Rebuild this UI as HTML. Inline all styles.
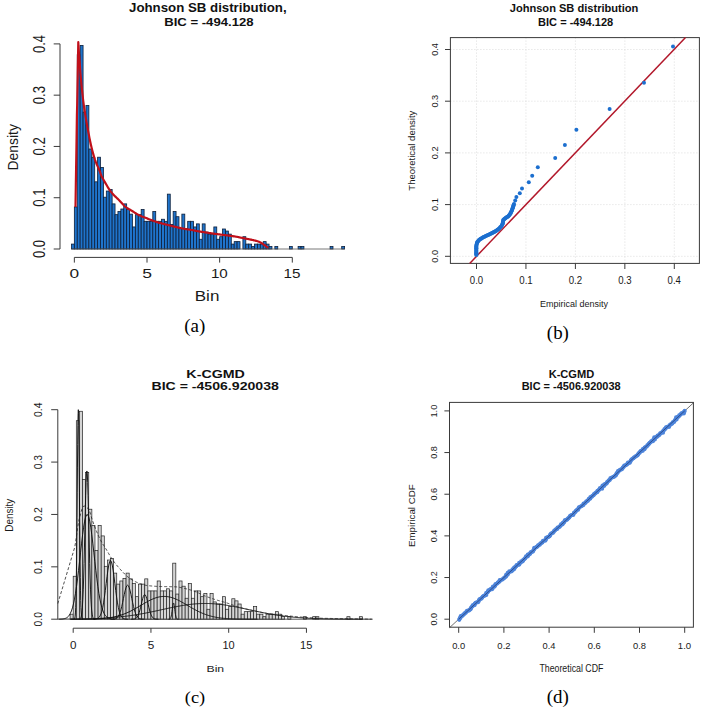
<!DOCTYPE html>
<html><head><meta charset="utf-8"><style>
html,body{margin:0;padding:0;background:#fff;}
svg{display:block;}
</style></head><body>
<svg width="704" height="707" viewBox="0 0 704 707">
<rect width="704" height="707" fill="#fff"/>
<rect x="71.44" y="244.08" width="2.91" height="4.92" fill="#1f74cc" stroke="#0d1f3a" stroke-width="0.8"/>
<rect x="74.35" y="206.95" width="2.91" height="42.05" fill="#1f74cc" stroke="#0d1f3a" stroke-width="0.8"/>
<rect x="77.26" y="54.67" width="2.91" height="194.33" fill="#1f74cc" stroke="#0d1f3a" stroke-width="0.8"/>
<rect x="80.16" y="45.44" width="2.91" height="203.56" fill="#1f74cc" stroke="#0d1f3a" stroke-width="0.8"/>
<rect x="83.07" y="112.1" width="2.91" height="136.9" fill="#1f74cc" stroke="#0d1f3a" stroke-width="0.8"/>
<rect x="85.97" y="105.43" width="2.91" height="143.57" fill="#1f74cc" stroke="#0d1f3a" stroke-width="0.8"/>
<rect x="88.88" y="149.01" width="2.91" height="99.99" fill="#1f74cc" stroke="#0d1f3a" stroke-width="0.8"/>
<rect x="91.79" y="157.22" width="2.91" height="91.78" fill="#1f74cc" stroke="#0d1f3a" stroke-width="0.8"/>
<rect x="94.69" y="181.83" width="2.91" height="67.17" fill="#1f74cc" stroke="#0d1f3a" stroke-width="0.8"/>
<rect x="97.6" y="157.22" width="2.91" height="91.78" fill="#1f74cc" stroke="#0d1f3a" stroke-width="0.8"/>
<rect x="100.5" y="167.47" width="2.91" height="81.53" fill="#1f74cc" stroke="#0d1f3a" stroke-width="0.8"/>
<rect x="103.41" y="197.21" width="2.91" height="51.79" fill="#1f74cc" stroke="#0d1f3a" stroke-width="0.8"/>
<rect x="106.32" y="191.06" width="2.91" height="57.94" fill="#1f74cc" stroke="#0d1f3a" stroke-width="0.8"/>
<rect x="109.22" y="189.52" width="2.91" height="59.48" fill="#1f74cc" stroke="#0d1f3a" stroke-width="0.8"/>
<rect x="112.13" y="203.88" width="2.91" height="45.12" fill="#1f74cc" stroke="#0d1f3a" stroke-width="0.8"/>
<rect x="115.03" y="214.65" width="2.91" height="34.35" fill="#1f74cc" stroke="#0d1f3a" stroke-width="0.8"/>
<rect x="117.94" y="211.57" width="2.91" height="37.43" fill="#1f74cc" stroke="#0d1f3a" stroke-width="0.8"/>
<rect x="120.85" y="209.01" width="2.91" height="39.99" fill="#1f74cc" stroke="#0d1f3a" stroke-width="0.8"/>
<rect x="123.75" y="203.88" width="2.91" height="45.12" fill="#1f74cc" stroke="#0d1f3a" stroke-width="0.8"/>
<rect x="126.66" y="209.52" width="2.91" height="39.48" fill="#1f74cc" stroke="#0d1f3a" stroke-width="0.8"/>
<rect x="129.56" y="214.13" width="2.91" height="34.87" fill="#1f74cc" stroke="#0d1f3a" stroke-width="0.8"/>
<rect x="132.47" y="226.95" width="2.91" height="22.05" fill="#1f74cc" stroke="#0d1f3a" stroke-width="0.8"/>
<rect x="135.38" y="214.65" width="2.91" height="34.35" fill="#1f74cc" stroke="#0d1f3a" stroke-width="0.8"/>
<rect x="138.28" y="214.65" width="2.91" height="34.35" fill="#1f74cc" stroke="#0d1f3a" stroke-width="0.8"/>
<rect x="141.19" y="209.52" width="2.91" height="39.48" fill="#1f74cc" stroke="#0d1f3a" stroke-width="0.8"/>
<rect x="144.09" y="221.31" width="2.91" height="27.69" fill="#1f74cc" stroke="#0d1f3a" stroke-width="0.8"/>
<rect x="147" y="221.31" width="2.91" height="27.69" fill="#1f74cc" stroke="#0d1f3a" stroke-width="0.8"/>
<rect x="149.91" y="221.31" width="2.91" height="27.69" fill="#1f74cc" stroke="#0d1f3a" stroke-width="0.8"/>
<rect x="152.81" y="211.57" width="2.91" height="37.43" fill="#1f74cc" stroke="#0d1f3a" stroke-width="0.8"/>
<rect x="155.72" y="221.31" width="2.91" height="27.69" fill="#1f74cc" stroke="#0d1f3a" stroke-width="0.8"/>
<rect x="158.62" y="221.31" width="2.91" height="27.69" fill="#1f74cc" stroke="#0d1f3a" stroke-width="0.8"/>
<rect x="161.53" y="219.26" width="2.91" height="29.74" fill="#1f74cc" stroke="#0d1f3a" stroke-width="0.8"/>
<rect x="164.44" y="221.31" width="2.91" height="27.69" fill="#1f74cc" stroke="#0d1f3a" stroke-width="0.8"/>
<rect x="167.34" y="194.14" width="2.91" height="54.86" fill="#1f74cc" stroke="#0d1f3a" stroke-width="0.8"/>
<rect x="170.25" y="224.39" width="2.91" height="24.61" fill="#1f74cc" stroke="#0d1f3a" stroke-width="0.8"/>
<rect x="173.15" y="211.57" width="2.91" height="37.43" fill="#1f74cc" stroke="#0d1f3a" stroke-width="0.8"/>
<rect x="176.06" y="216.7" width="2.91" height="32.3" fill="#1f74cc" stroke="#0d1f3a" stroke-width="0.8"/>
<rect x="178.97" y="228.49" width="2.91" height="20.51" fill="#1f74cc" stroke="#0d1f3a" stroke-width="0.8"/>
<rect x="181.87" y="214.13" width="2.91" height="34.87" fill="#1f74cc" stroke="#0d1f3a" stroke-width="0.8"/>
<rect x="184.78" y="228.49" width="2.91" height="20.51" fill="#1f74cc" stroke="#0d1f3a" stroke-width="0.8"/>
<rect x="187.68" y="221.31" width="2.91" height="27.69" fill="#1f74cc" stroke="#0d1f3a" stroke-width="0.8"/>
<rect x="190.59" y="221.31" width="2.91" height="27.69" fill="#1f74cc" stroke="#0d1f3a" stroke-width="0.8"/>
<rect x="193.5" y="226.95" width="2.91" height="22.05" fill="#1f74cc" stroke="#0d1f3a" stroke-width="0.8"/>
<rect x="196.4" y="223.88" width="2.91" height="25.12" fill="#1f74cc" stroke="#0d1f3a" stroke-width="0.8"/>
<rect x="199.31" y="239.26" width="2.91" height="9.74" fill="#1f74cc" stroke="#0d1f3a" stroke-width="0.8"/>
<rect x="202.21" y="223.88" width="2.91" height="25.12" fill="#1f74cc" stroke="#0d1f3a" stroke-width="0.8"/>
<rect x="205.12" y="232.08" width="2.91" height="16.92" fill="#1f74cc" stroke="#0d1f3a" stroke-width="0.8"/>
<rect x="208.03" y="234.13" width="2.91" height="14.87" fill="#1f74cc" stroke="#0d1f3a" stroke-width="0.8"/>
<rect x="210.93" y="234.13" width="2.91" height="14.87" fill="#1f74cc" stroke="#0d1f3a" stroke-width="0.8"/>
<rect x="213.84" y="226.95" width="2.91" height="22.05" fill="#1f74cc" stroke="#0d1f3a" stroke-width="0.8"/>
<rect x="216.74" y="239.26" width="2.91" height="9.74" fill="#1f74cc" stroke="#0d1f3a" stroke-width="0.8"/>
<rect x="219.65" y="236.69" width="2.91" height="12.31" fill="#1f74cc" stroke="#0d1f3a" stroke-width="0.8"/>
<rect x="222.56" y="229" width="2.91" height="20" fill="#1f74cc" stroke="#0d1f3a" stroke-width="0.8"/>
<rect x="225.46" y="231.05" width="2.91" height="17.95" fill="#1f74cc" stroke="#0d1f3a" stroke-width="0.8"/>
<rect x="228.37" y="234.13" width="2.91" height="14.87" fill="#1f74cc" stroke="#0d1f3a" stroke-width="0.8"/>
<rect x="231.27" y="244.08" width="2.91" height="4.92" fill="#1f74cc" stroke="#0d1f3a" stroke-width="0.8"/>
<rect x="234.18" y="241.62" width="2.91" height="7.38" fill="#1f74cc" stroke="#0d1f3a" stroke-width="0.8"/>
<rect x="237.09" y="241.62" width="2.91" height="7.38" fill="#1f74cc" stroke="#0d1f3a" stroke-width="0.8"/>
<rect x="242.9" y="236.69" width="2.91" height="12.31" fill="#1f74cc" stroke="#0d1f3a" stroke-width="0.8"/>
<rect x="245.8" y="244.08" width="2.91" height="4.92" fill="#1f74cc" stroke="#0d1f3a" stroke-width="0.8"/>
<rect x="248.71" y="244.08" width="2.91" height="4.92" fill="#1f74cc" stroke="#0d1f3a" stroke-width="0.8"/>
<rect x="251.62" y="246.54" width="2.91" height="2.46" fill="#1f74cc" stroke="#0d1f3a" stroke-width="0.8"/>
<rect x="254.52" y="244.08" width="2.91" height="4.92" fill="#1f74cc" stroke="#0d1f3a" stroke-width="0.8"/>
<rect x="257.43" y="244.08" width="2.91" height="4.92" fill="#1f74cc" stroke="#0d1f3a" stroke-width="0.8"/>
<rect x="260.33" y="244.08" width="2.91" height="4.92" fill="#1f74cc" stroke="#0d1f3a" stroke-width="0.8"/>
<rect x="263.24" y="241.62" width="2.91" height="7.38" fill="#1f74cc" stroke="#0d1f3a" stroke-width="0.8"/>
<rect x="266.15" y="244.08" width="2.91" height="4.92" fill="#1f74cc" stroke="#0d1f3a" stroke-width="0.8"/>
<rect x="269.05" y="246.54" width="2.91" height="2.46" fill="#1f74cc" stroke="#0d1f3a" stroke-width="0.8"/>
<rect x="274.86" y="246.54" width="2.91" height="2.46" fill="#1f74cc" stroke="#0d1f3a" stroke-width="0.8"/>
<rect x="289.39" y="246.54" width="2.91" height="2.46" fill="#1f74cc" stroke="#0d1f3a" stroke-width="0.8"/>
<rect x="298.11" y="246.54" width="2.91" height="2.46" fill="#1f74cc" stroke="#0d1f3a" stroke-width="0.8"/>
<rect x="301.02" y="246.54" width="2.91" height="2.46" fill="#1f74cc" stroke="#0d1f3a" stroke-width="0.8"/>
<rect x="330.08" y="246.54" width="2.91" height="2.46" fill="#1f74cc" stroke="#0d1f3a" stroke-width="0.8"/>
<rect x="341.7" y="246.54" width="2.91" height="2.46" fill="#1f74cc" stroke="#0d1f3a" stroke-width="0.8"/>
<line x1="71.44" y1="249" x2="344.61" y2="249" stroke="#555" stroke-width="0.8"/>
<polyline points="75.5,207 75.9,180 76.4,150 76.9,116 77.2,104 77.7,75 78,58.6 78.3,42.2 79,54.07 79.7,62.76 80.4,72.93 81.1,81.03 81.8,87.99 82.5,94.7 83.2,100.63 83.9,105.88 84.6,110.66 85.3,115.09 86,119.27 86.7,123.26 87.4,127.11 88.1,130.87 88.8,134.57 89.5,138.16 90.2,141.56 90.9,144.7 91.6,147.64 92.3,150.46 93,153.13 93.7,155.64 94.4,157.97 95.1,160.08 95.8,161.97 96.5,163.7 97.2,165.32 97.9,166.89 98.6,168.47 99.3,170.13 100,171.94 100.7,173.97 101.4,175.68 102.1,177.15 102.8,178.5 103.5,179.76 104.2,180.96 104.9,182.14 105.6,183.33 106.3,184.54 107,185.75 107.7,186.95 108.4,188.11 109.1,189.22 109.8,190.25 110.5,191.19 111.2,192.07 111.9,192.89 112.6,193.67 113.3,194.43 114,195.17 114.7,195.9 115.4,196.62 116.1,197.31 116.8,197.98 117.5,198.64 118.2,199.31 118.9,200 119.6,200.71 120.3,201.47 121,202.25 121.7,203.05 122.4,203.83 123.1,204.59 123.8,205.31 124.5,205.97 125.2,206.56 125.9,207.1 126.6,207.6 127.3,208.07 128,208.53 128.7,208.96 129.4,209.38 130.1,209.8 130.8,210.21 131.5,210.63 132.2,211.06 132.9,211.5 133.6,211.94 134.3,212.38 135,212.82 135.7,213.25 136.4,213.67 137.1,214.08 137.8,214.48 138.5,214.85 139.2,215.2 139.9,215.53 140.6,215.84 141.3,216.14 142,216.43 142.7,216.7 143.4,216.98 144.1,217.24 144.8,217.51 145.5,217.78 146.2,218.06 146.9,218.34 147.6,218.63 148.3,218.92 149,219.2 149.7,219.49 150.4,219.77 151.1,220.05 151.8,220.32 152.5,220.58 153.2,220.83 153.9,221.07 154.6,221.31 155.3,221.54 156,221.76 156.7,221.98 157.4,222.2 158.1,222.41 158.8,222.62 159.5,222.82 160.2,223.02 160.9,223.21 161.6,223.4 162.3,223.58 163,223.76 163.7,223.93 164.4,224.11 165.1,224.28 165.8,224.45 166.5,224.62 167.2,224.8 167.9,224.98 168.6,225.16 169.3,225.34 170,225.53 170.7,225.71 171.4,225.89 172.1,226.08 172.8,226.26 173.5,226.43 174.2,226.61 174.9,226.78 175.6,226.94 176.3,227.11 177,227.27 177.7,227.43 178.4,227.59 179.1,227.75 179.8,227.91 180.5,228.06 181.2,228.21 181.9,228.36 182.6,228.5 183.3,228.63 184,228.76 184.7,228.89 185.4,229 186.1,229.11 186.8,229.22 187.5,229.32 188.2,229.42 188.9,229.52 189.6,229.63 190.3,229.73 191,229.85 191.7,229.97 192.4,230.1 193.1,230.24 193.8,230.38 194.5,230.53 195.2,230.67 195.9,230.82 196.6,230.96 197.3,231.1 198,231.23 198.7,231.35 199.4,231.47 200.1,231.58 200.8,231.69 201.5,231.8 202.2,231.9 202.9,232.01 203.6,232.11 204.3,232.22 205,232.32 205.7,232.43 206.4,232.54 207.1,232.65 207.8,232.76 208.5,232.87 209.2,232.98 209.9,233.09 210.6,233.2 211.3,233.31 212,233.41 212.7,233.51 213.4,233.61 214.1,233.71 214.8,233.81 215.5,233.91 216.2,234 216.9,234.09 217.6,234.19 218.3,234.28 219,234.37 219.7,234.46 220.4,234.55 221.1,234.64 221.8,234.72 222.5,234.81 223.2,234.89 223.9,234.98 224.6,235.06 225.3,235.15 226,235.24 226.7,235.33 227.4,235.42 228.1,235.51 228.8,235.6 229.5,235.69 230.2,235.79 230.9,235.89 231.6,235.98 232.3,236.08 233,236.19 233.7,236.29 234.4,236.4 235.1,236.52 235.8,236.64 236.5,236.76 237.2,236.89 237.9,237.03 238.6,237.17 239.3,237.31 240,237.46 240.7,237.6 241.4,237.75 242.1,237.9 242.8,238.04 243.5,238.18 244.2,238.32 244.9,238.45 245.6,238.59 246.3,238.72 247,238.85 247.7,238.99 248.4,239.12 249.1,239.26 249.8,239.4 250.5,239.55 251.2,239.7 251.9,239.85 252.6,240.01 253.3,240.17 254,240.33 254.7,240.49 255.4,240.65 256.1,240.83 256.8,241.02 257.5,241.22 258.2,241.45 258.9,241.7 259.6,242 260.3,242.36 261,242.77 261.7,243.21 262.4,243.67 263.1,244.13 263.8,244.61 264.5,245.13 265.2,245.67 265.9,246.2 266.6,246.7 267.3,247.17 268,247.61 268.3,247.8" fill="none" stroke="#c0101a" stroke-width="2.2" stroke-linejoin="round"/>
<line x1="60" y1="249" x2="60" y2="43.9" stroke="#3a3a3a" stroke-width="1"/>
<line x1="53.7" y1="249" x2="60" y2="249" stroke="#3a3a3a" stroke-width="1"/>
<text transform="translate(45,258.12) rotate(-90) scale(0.7630,1)" font-family='"Liberation Sans", sans-serif' font-size="17.143" fill="#1a1a1a">0.0</text>
<line x1="53.7" y1="197.72" x2="60" y2="197.72" stroke="#3a3a3a" stroke-width="1"/>
<text transform="translate(45,206.85) rotate(-90) scale(0.7688,1)" font-family='"Liberation Sans", sans-serif' font-size="17.143" fill="#1a1a1a">0.1</text>
<line x1="53.7" y1="146.45" x2="60" y2="146.45" stroke="#3a3a3a" stroke-width="1"/>
<text transform="translate(45,155.58) rotate(-90) scale(0.7718,1)" font-family='"Liberation Sans", sans-serif' font-size="17.143" fill="#1a1a1a">0.2</text>
<line x1="53.7" y1="95.17" x2="60" y2="95.17" stroke="#3a3a3a" stroke-width="1"/>
<text transform="translate(45,104.3) rotate(-90) scale(0.7659,1)" font-family='"Liberation Sans", sans-serif' font-size="17.143" fill="#1a1a1a">0.3</text>
<line x1="53.7" y1="43.9" x2="60" y2="43.9" stroke="#3a3a3a" stroke-width="1"/>
<text transform="translate(45,53.02) rotate(-90) scale(0.7601,1)" font-family='"Liberation Sans", sans-serif' font-size="17.143" fill="#1a1a1a">0.4</text>
<line x1="74.35" y1="257.4" x2="292.3" y2="257.4" stroke="#3a3a3a" stroke-width="1"/>
<line x1="74.35" y1="257.4" x2="74.35" y2="262.6" stroke="#3a3a3a" stroke-width="1"/>
<text transform="translate(69.51,277.6) scale(1.2877,1)" font-family='"Liberation Sans", sans-serif' font-size="13.429" fill="#1a1a1a">0</text>
<line x1="147" y1="257.4" x2="147" y2="262.6" stroke="#3a3a3a" stroke-width="1"/>
<text transform="translate(142.15,277.6) scale(1.2826,1)" font-family='"Liberation Sans", sans-serif' font-size="13.623" fill="#1a1a1a">5</text>
<line x1="219.65" y1="257.4" x2="219.65" y2="262.6" stroke="#3a3a3a" stroke-width="1"/>
<text transform="translate(210.91,277.6) scale(1.1319,1)" font-family='"Liberation Sans", sans-serif' font-size="13.429" fill="#1a1a1a">10</text>
<line x1="292.3" y1="257.4" x2="292.3" y2="262.6" stroke="#3a3a3a" stroke-width="1"/>
<text transform="translate(283.55,277.6) scale(1.1214,1)" font-family='"Liberation Sans", sans-serif' font-size="13.623" fill="#1a1a1a">15</text>
<text transform="translate(18.2,170.51) rotate(-90) scale(0.9009,1)" font-family='"Liberation Sans", sans-serif' font-size="15.448" fill="#1a1a1a">Density</text>
<text transform="translate(194.73,300.8) scale(1.2020,1)" font-family='"Liberation Sans", sans-serif' font-size="14.207" fill="#1a1a1a">Bin</text>
<text transform="translate(129,12.3) scale(1.1062,1)" font-family='"Liberation Sans", sans-serif' font-size="12.000" font-weight="bold" fill="#111">Johnson SB distribution,</text>
<text transform="translate(164.15,25.6) scale(1.1213,1)" font-family='"Liberation Sans", sans-serif' font-size="11.714" font-weight="bold" fill="#111">BIC = -494.128</text>
<text transform="translate(184.24,331.6) scale(1.0168,1)" font-family='"Liberation Serif", serif' font-size="18.705" fill="#000">(a)</text>
<line x1="476.5" y1="37.6" x2="476.5" y2="263.4" stroke="#d4d4d4" stroke-width="0.8" stroke-dasharray="1,2"/>
<line x1="450.4" y1="256.3" x2="699.4" y2="256.3" stroke="#d4d4d4" stroke-width="0.8" stroke-dasharray="1,2"/>
<line x1="525.95" y1="37.6" x2="525.95" y2="263.4" stroke="#d4d4d4" stroke-width="0.8" stroke-dasharray="1,2"/>
<line x1="450.4" y1="204.6" x2="699.4" y2="204.6" stroke="#d4d4d4" stroke-width="0.8" stroke-dasharray="1,2"/>
<line x1="575.4" y1="37.6" x2="575.4" y2="263.4" stroke="#d4d4d4" stroke-width="0.8" stroke-dasharray="1,2"/>
<line x1="450.4" y1="152.9" x2="699.4" y2="152.9" stroke="#d4d4d4" stroke-width="0.8" stroke-dasharray="1,2"/>
<line x1="624.85" y1="37.6" x2="624.85" y2="263.4" stroke="#d4d4d4" stroke-width="0.8" stroke-dasharray="1,2"/>
<line x1="450.4" y1="101.2" x2="699.4" y2="101.2" stroke="#d4d4d4" stroke-width="0.8" stroke-dasharray="1,2"/>
<line x1="674.3" y1="37.6" x2="674.3" y2="263.4" stroke="#d4d4d4" stroke-width="0.8" stroke-dasharray="1,2"/>
<line x1="450.4" y1="49.5" x2="699.4" y2="49.5" stroke="#d4d4d4" stroke-width="0.8" stroke-dasharray="1,2"/>
<rect x="450.4" y="37.6" width="249" height="225.8" fill="none" stroke="#3a3a3a" stroke-width="1"/>
<line x1="476.5" y1="263.4" x2="476.5" y2="269" stroke="#3a3a3a" stroke-width="1"/>
<text transform="translate(469.82,284.3) scale(0.9316,1)" font-family='"Liberation Sans", sans-serif' font-size="10.286" fill="#1a1a1a">0.0</text>
<line x1="445" y1="256.3" x2="450.4" y2="256.3" stroke="#3a3a3a" stroke-width="1"/>
<text transform="translate(437.9,262.67) rotate(-90) scale(0.9827,1)" font-family='"Liberation Sans", sans-serif' font-size="9.286" fill="#1a1a1a">0.0</text>
<line x1="525.95" y1="263.4" x2="525.95" y2="269" stroke="#3a3a3a" stroke-width="1"/>
<text transform="translate(519.26,284.3) scale(0.9387,1)" font-family='"Liberation Sans", sans-serif' font-size="10.286" fill="#1a1a1a">0.1</text>
<line x1="445" y1="204.6" x2="450.4" y2="204.6" stroke="#3a3a3a" stroke-width="1"/>
<text transform="translate(437.9,210.97) rotate(-90) scale(0.9903,1)" font-family='"Liberation Sans", sans-serif' font-size="9.286" fill="#1a1a1a">0.1</text>
<line x1="575.4" y1="263.4" x2="575.4" y2="269" stroke="#3a3a3a" stroke-width="1"/>
<text transform="translate(568.71,284.3) scale(0.9423,1)" font-family='"Liberation Sans", sans-serif' font-size="10.286" fill="#1a1a1a">0.2</text>
<line x1="445" y1="152.9" x2="450.4" y2="152.9" stroke="#3a3a3a" stroke-width="1"/>
<text transform="translate(437.9,159.27) rotate(-90) scale(0.9941,1)" font-family='"Liberation Sans", sans-serif' font-size="9.286" fill="#1a1a1a">0.2</text>
<line x1="624.85" y1="263.4" x2="624.85" y2="269" stroke="#3a3a3a" stroke-width="1"/>
<text transform="translate(618.17,284.3) scale(0.9351,1)" font-family='"Liberation Sans", sans-serif' font-size="10.286" fill="#1a1a1a">0.3</text>
<line x1="445" y1="101.2" x2="450.4" y2="101.2" stroke="#3a3a3a" stroke-width="1"/>
<text transform="translate(437.9,107.57) rotate(-90) scale(0.9865,1)" font-family='"Liberation Sans", sans-serif' font-size="9.286" fill="#1a1a1a">0.3</text>
<line x1="674.3" y1="263.4" x2="674.3" y2="269" stroke="#3a3a3a" stroke-width="1"/>
<text transform="translate(667.62,284.3) scale(0.9280,1)" font-family='"Liberation Sans", sans-serif' font-size="10.286" fill="#1a1a1a">0.4</text>
<line x1="445" y1="49.5" x2="450.4" y2="49.5" stroke="#3a3a3a" stroke-width="1"/>
<text transform="translate(437.9,55.86) rotate(-90) scale(0.9790,1)" font-family='"Liberation Sans", sans-serif' font-size="9.286" fill="#1a1a1a">0.4</text>
<text transform="translate(415.1,190.69) rotate(-90) scale(1.1723,1)" font-family='"Liberation Sans", sans-serif' font-size="8.138" fill="#1a1a1a">Theoretical density</text>
<text transform="translate(539.88,307.4) scale(0.9215,1)" font-family='"Liberation Sans", sans-serif' font-size="9.793" fill="#1a1a1a">Empirical density</text>
<text transform="translate(509.73,12.3) scale(1.0176,1)" font-family='"Liberation Sans", sans-serif' font-size="10.897" font-weight="bold" fill="#111">Johnson SB distribution</text>
<text transform="translate(538.08,25.9) scale(1.0164,1)" font-family='"Liberation Sans", sans-serif' font-size="10.857" font-weight="bold" fill="#111">BIC = -494.128</text>
<text transform="translate(546.85,338.8) scale(1.0177,1)" font-family='"Liberation Serif", serif' font-size="18.561" fill="#000">(b)</text>
<line x1="469.7" y1="263.4" x2="685.5" y2="37.6" stroke="#b2182b" stroke-width="1.5"/>
<circle cx="576.4" cy="129.8" r="2.0" fill="#1c6fcf"/>
<circle cx="673" cy="46.4" r="2.0" fill="#1c6fcf"/>
<circle cx="644" cy="82.7" r="2.0" fill="#1c6fcf"/>
<circle cx="609.6" cy="109.1" r="2.0" fill="#1c6fcf"/>
<circle cx="564.9" cy="145.1" r="2.0" fill="#1c6fcf"/>
<circle cx="555.2" cy="157.9" r="2.0" fill="#1c6fcf"/>
<circle cx="537.8" cy="167.3" r="2.0" fill="#1c6fcf"/>
<circle cx="532.2" cy="175.8" r="2.0" fill="#1c6fcf"/>
<circle cx="528.8" cy="182.3" r="2.0" fill="#1c6fcf"/>
<circle cx="522" cy="188.6" r="2.0" fill="#1c6fcf"/>
<circle cx="519.8" cy="193.3" r="2.0" fill="#1c6fcf"/>
<circle cx="516.4" cy="197.1" r="2.0" fill="#1c6fcf"/>
<circle cx="515.2" cy="200.5" r="2.0" fill="#1c6fcf"/>
<circle cx="513.97" cy="203.92" r="2.0" fill="#1c6fcf"/>
<circle cx="513.72" cy="204.77" r="2.0" fill="#1c6fcf"/>
<circle cx="513.46" cy="205.62" r="2.0" fill="#1c6fcf"/>
<circle cx="513.21" cy="206.47" r="2.0" fill="#1c6fcf"/>
<circle cx="512.95" cy="207.33" r="2.0" fill="#1c6fcf"/>
<circle cx="512.65" cy="208.18" r="2.0" fill="#1c6fcf"/>
<circle cx="512.36" cy="209.03" r="2.0" fill="#1c6fcf"/>
<circle cx="512.06" cy="209.88" r="2.0" fill="#1c6fcf"/>
<circle cx="511.76" cy="210.73" r="2.0" fill="#1c6fcf"/>
<circle cx="511.33" cy="211.59" r="2.0" fill="#1c6fcf"/>
<circle cx="510.91" cy="212.44" r="2.0" fill="#1c6fcf"/>
<circle cx="510.48" cy="213.29" r="2.0" fill="#1c6fcf"/>
<circle cx="510.05" cy="214.14" r="2.0" fill="#1c6fcf"/>
<circle cx="509.49" cy="214.83" r="2.0" fill="#1c6fcf"/>
<circle cx="508.92" cy="215.51" r="2.0" fill="#1c6fcf"/>
<circle cx="508.35" cy="216.19" r="2.0" fill="#1c6fcf"/>
<circle cx="507.67" cy="216.63" r="2.0" fill="#1c6fcf"/>
<circle cx="506.99" cy="217.08" r="2.0" fill="#1c6fcf"/>
<circle cx="506.3" cy="217.52" r="2.0" fill="#1c6fcf"/>
<circle cx="505.62" cy="217.96" r="2.0" fill="#1c6fcf"/>
<circle cx="504.94" cy="218.4" r="2.0" fill="#1c6fcf"/>
<circle cx="504.37" cy="218.97" r="2.0" fill="#1c6fcf"/>
<circle cx="503.8" cy="219.54" r="2.0" fill="#1c6fcf"/>
<circle cx="503.24" cy="220.11" r="2.0" fill="#1c6fcf"/>
<circle cx="503.11" cy="220.96" r="2.0" fill="#1c6fcf"/>
<circle cx="502.98" cy="221.81" r="2.0" fill="#1c6fcf"/>
<circle cx="502.85" cy="222.67" r="2.0" fill="#1c6fcf"/>
<circle cx="502.73" cy="223.52" r="2.0" fill="#1c6fcf"/>
<circle cx="502.33" cy="224.37" r="2.0" fill="#1c6fcf"/>
<circle cx="501.93" cy="225.22" r="2.0" fill="#1c6fcf"/>
<circle cx="501.53" cy="226.07" r="2.0" fill="#1c6fcf"/>
<circle cx="500.89" cy="226.71" r="2.0" fill="#1c6fcf"/>
<circle cx="500.25" cy="227.35" r="2.0" fill="#1c6fcf"/>
<circle cx="499.61" cy="227.99" r="2.0" fill="#1c6fcf"/>
<circle cx="498.98" cy="228.63" r="2.0" fill="#1c6fcf"/>
<circle cx="498.29" cy="229.14" r="2.0" fill="#1c6fcf"/>
<circle cx="497.61" cy="229.65" r="2.0" fill="#1c6fcf"/>
<circle cx="496.93" cy="230.17" r="2.0" fill="#1c6fcf"/>
<circle cx="496.25" cy="230.68" r="2.0" fill="#1c6fcf"/>
<circle cx="495.57" cy="231.19" r="2.0" fill="#1c6fcf"/>
<circle cx="494.86" cy="231.56" r="2.0" fill="#1c6fcf"/>
<circle cx="494.15" cy="231.93" r="2.0" fill="#1c6fcf"/>
<circle cx="493.44" cy="232.3" r="2.0" fill="#1c6fcf"/>
<circle cx="492.73" cy="232.67" r="2.0" fill="#1c6fcf"/>
<circle cx="492.02" cy="233.03" r="2.0" fill="#1c6fcf"/>
<circle cx="491.31" cy="233.4" r="2.0" fill="#1c6fcf"/>
<circle cx="490.45" cy="233.81" r="2.0" fill="#1c6fcf"/>
<circle cx="489.6" cy="234.22" r="2.0" fill="#1c6fcf"/>
<circle cx="488.75" cy="234.63" r="2.0" fill="#1c6fcf"/>
<circle cx="487.9" cy="235.04" r="2.0" fill="#1c6fcf"/>
<circle cx="487.04" cy="235.45" r="2.0" fill="#1c6fcf"/>
<circle cx="486.19" cy="235.86" r="2.0" fill="#1c6fcf"/>
<circle cx="485.34" cy="236.27" r="2.0" fill="#1c6fcf"/>
<circle cx="484.49" cy="236.68" r="2.0" fill="#1c6fcf"/>
<circle cx="483.64" cy="237.09" r="2.0" fill="#1c6fcf"/>
<circle cx="482.78" cy="237.49" r="2.0" fill="#1c6fcf"/>
<circle cx="482.1" cy="237.94" r="2.0" fill="#1c6fcf"/>
<circle cx="481.42" cy="238.38" r="2.0" fill="#1c6fcf"/>
<circle cx="480.74" cy="238.82" r="2.0" fill="#1c6fcf"/>
<circle cx="480.06" cy="239.27" r="2.0" fill="#1c6fcf"/>
<circle cx="479.37" cy="239.71" r="2.0" fill="#1c6fcf"/>
<circle cx="478.82" cy="240.35" r="2.0" fill="#1c6fcf"/>
<circle cx="478.27" cy="240.99" r="2.0" fill="#1c6fcf"/>
<circle cx="477.71" cy="241.63" r="2.0" fill="#1c6fcf"/>
<circle cx="477.16" cy="242.27" r="2.0" fill="#1c6fcf"/>
<circle cx="476.95" cy="243.12" r="2.0" fill="#1c6fcf"/>
<circle cx="476.73" cy="243.97" r="2.0" fill="#1c6fcf"/>
<circle cx="476.52" cy="244.82" r="2.0" fill="#1c6fcf"/>
<circle cx="476.31" cy="245.68" r="2.0" fill="#1c6fcf"/>
<circle cx="476.31" cy="246.53" r="2.0" fill="#1c6fcf"/>
<circle cx="476.31" cy="247.38" r="2.0" fill="#1c6fcf"/>
<circle cx="476.31" cy="248.23" r="2.0" fill="#1c6fcf"/>
<circle cx="476.31" cy="249.08" r="2.0" fill="#1c6fcf"/>
<circle cx="476.31" cy="249.94" r="2.0" fill="#1c6fcf"/>
<circle cx="476.31" cy="250.79" r="2.0" fill="#1c6fcf"/>
<circle cx="476.31" cy="251.64" r="2.0" fill="#1c6fcf"/>
<circle cx="476.31" cy="252.49" r="2.0" fill="#1c6fcf"/>
<circle cx="476.31" cy="253.35" r="2.0" fill="#1c6fcf"/>
<circle cx="476.31" cy="254.2" r="2.0" fill="#1c6fcf"/>
<circle cx="476.31" cy="255.05" r="2.0" fill="#1c6fcf"/>
<rect x="70.09" y="614.17" width="3.11" height="5.03" fill="#d4d4d4" stroke="#222" stroke-width="0.7"/>
<rect x="73.2" y="576.25" width="3.11" height="42.95" fill="#d4d4d4" stroke="#222" stroke-width="0.7"/>
<rect x="76.31" y="420.7" width="3.11" height="198.5" fill="#d4d4d4" stroke="#222" stroke-width="0.7"/>
<rect x="79.42" y="411.27" width="3.11" height="207.93" fill="#d4d4d4" stroke="#222" stroke-width="0.7"/>
<rect x="82.53" y="479.36" width="3.11" height="139.84" fill="#d4d4d4" stroke="#222" stroke-width="0.7"/>
<rect x="85.64" y="472.55" width="3.11" height="146.65" fill="#d4d4d4" stroke="#222" stroke-width="0.7"/>
<rect x="88.75" y="509.21" width="3.11" height="109.99" fill="#d4d4d4" stroke="#222" stroke-width="0.7"/>
<rect x="91.86" y="525.45" width="3.11" height="93.75" fill="#d4d4d4" stroke="#222" stroke-width="0.7"/>
<rect x="94.97" y="550.59" width="3.11" height="68.61" fill="#d4d4d4" stroke="#222" stroke-width="0.7"/>
<rect x="98.08" y="525.45" width="3.11" height="93.75" fill="#d4d4d4" stroke="#222" stroke-width="0.7"/>
<rect x="101.19" y="535.92" width="3.11" height="83.28" fill="#d4d4d4" stroke="#222" stroke-width="0.7"/>
<rect x="104.3" y="566.3" width="3.11" height="52.9" fill="#d4d4d4" stroke="#222" stroke-width="0.7"/>
<rect x="107.41" y="560.02" width="3.11" height="59.18" fill="#d4d4d4" stroke="#222" stroke-width="0.7"/>
<rect x="110.52" y="558.45" width="3.11" height="60.75" fill="#d4d4d4" stroke="#222" stroke-width="0.7"/>
<rect x="113.63" y="573.11" width="3.11" height="46.09" fill="#d4d4d4" stroke="#222" stroke-width="0.7"/>
<rect x="116.74" y="584.11" width="3.11" height="35.09" fill="#d4d4d4" stroke="#222" stroke-width="0.7"/>
<rect x="119.85" y="580.97" width="3.11" height="38.23" fill="#d4d4d4" stroke="#222" stroke-width="0.7"/>
<rect x="122.96" y="578.35" width="3.11" height="40.85" fill="#d4d4d4" stroke="#222" stroke-width="0.7"/>
<rect x="126.07" y="573.11" width="3.11" height="46.09" fill="#d4d4d4" stroke="#222" stroke-width="0.7"/>
<rect x="129.18" y="578.87" width="3.11" height="40.33" fill="#d4d4d4" stroke="#222" stroke-width="0.7"/>
<rect x="132.29" y="583.59" width="3.11" height="35.62" fill="#d4d4d4" stroke="#222" stroke-width="0.7"/>
<rect x="135.4" y="596.68" width="3.11" height="22.52" fill="#d4d4d4" stroke="#222" stroke-width="0.7"/>
<rect x="138.51" y="584.11" width="3.11" height="35.09" fill="#d4d4d4" stroke="#222" stroke-width="0.7"/>
<rect x="141.62" y="584.11" width="3.11" height="35.09" fill="#d4d4d4" stroke="#222" stroke-width="0.7"/>
<rect x="144.73" y="578.87" width="3.11" height="40.33" fill="#d4d4d4" stroke="#222" stroke-width="0.7"/>
<rect x="147.84" y="590.92" width="3.11" height="28.28" fill="#d4d4d4" stroke="#222" stroke-width="0.7"/>
<rect x="150.95" y="590.92" width="3.11" height="28.28" fill="#d4d4d4" stroke="#222" stroke-width="0.7"/>
<rect x="154.06" y="590.92" width="3.11" height="28.28" fill="#d4d4d4" stroke="#222" stroke-width="0.7"/>
<rect x="157.17" y="580.97" width="3.11" height="38.23" fill="#d4d4d4" stroke="#222" stroke-width="0.7"/>
<rect x="160.28" y="590.92" width="3.11" height="28.28" fill="#d4d4d4" stroke="#222" stroke-width="0.7"/>
<rect x="163.39" y="590.92" width="3.11" height="28.28" fill="#d4d4d4" stroke="#222" stroke-width="0.7"/>
<rect x="166.5" y="588.82" width="3.11" height="30.38" fill="#d4d4d4" stroke="#222" stroke-width="0.7"/>
<rect x="169.61" y="590.92" width="3.11" height="28.28" fill="#d4d4d4" stroke="#222" stroke-width="0.7"/>
<rect x="172.72" y="563.16" width="3.11" height="56.04" fill="#d4d4d4" stroke="#222" stroke-width="0.7"/>
<rect x="175.83" y="594.06" width="3.11" height="25.14" fill="#d4d4d4" stroke="#222" stroke-width="0.7"/>
<rect x="178.94" y="580.97" width="3.11" height="38.23" fill="#d4d4d4" stroke="#222" stroke-width="0.7"/>
<rect x="182.05" y="586.2" width="3.11" height="33" fill="#d4d4d4" stroke="#222" stroke-width="0.7"/>
<rect x="185.16" y="598.25" width="3.11" height="20.95" fill="#d4d4d4" stroke="#222" stroke-width="0.7"/>
<rect x="188.27" y="583.59" width="3.11" height="35.62" fill="#d4d4d4" stroke="#222" stroke-width="0.7"/>
<rect x="191.38" y="598.25" width="3.11" height="20.95" fill="#d4d4d4" stroke="#222" stroke-width="0.7"/>
<rect x="194.49" y="590.92" width="3.11" height="28.28" fill="#d4d4d4" stroke="#222" stroke-width="0.7"/>
<rect x="197.6" y="590.92" width="3.11" height="28.28" fill="#d4d4d4" stroke="#222" stroke-width="0.7"/>
<rect x="200.71" y="596.68" width="3.11" height="22.52" fill="#d4d4d4" stroke="#222" stroke-width="0.7"/>
<rect x="203.82" y="593.54" width="3.11" height="25.66" fill="#d4d4d4" stroke="#222" stroke-width="0.7"/>
<rect x="206.93" y="609.25" width="3.11" height="9.95" fill="#d4d4d4" stroke="#222" stroke-width="0.7"/>
<rect x="210.04" y="593.54" width="3.11" height="25.66" fill="#d4d4d4" stroke="#222" stroke-width="0.7"/>
<rect x="213.15" y="601.92" width="3.11" height="17.28" fill="#d4d4d4" stroke="#222" stroke-width="0.7"/>
<rect x="216.26" y="604.01" width="3.11" height="15.19" fill="#d4d4d4" stroke="#222" stroke-width="0.7"/>
<rect x="219.37" y="604.01" width="3.11" height="15.19" fill="#d4d4d4" stroke="#222" stroke-width="0.7"/>
<rect x="222.48" y="596.68" width="3.11" height="22.52" fill="#d4d4d4" stroke="#222" stroke-width="0.7"/>
<rect x="225.59" y="609.25" width="3.11" height="9.95" fill="#d4d4d4" stroke="#222" stroke-width="0.7"/>
<rect x="228.7" y="606.63" width="3.11" height="12.57" fill="#d4d4d4" stroke="#222" stroke-width="0.7"/>
<rect x="231.81" y="598.77" width="3.11" height="20.43" fill="#d4d4d4" stroke="#222" stroke-width="0.7"/>
<rect x="234.92" y="600.87" width="3.11" height="18.33" fill="#d4d4d4" stroke="#222" stroke-width="0.7"/>
<rect x="238.03" y="604.01" width="3.11" height="15.19" fill="#d4d4d4" stroke="#222" stroke-width="0.7"/>
<rect x="241.14" y="614.17" width="3.11" height="5.03" fill="#d4d4d4" stroke="#222" stroke-width="0.7"/>
<rect x="244.25" y="611.66" width="3.11" height="7.54" fill="#d4d4d4" stroke="#222" stroke-width="0.7"/>
<rect x="247.36" y="611.66" width="3.11" height="7.54" fill="#d4d4d4" stroke="#222" stroke-width="0.7"/>
<rect x="250.47" y="611.66" width="3.11" height="7.54" fill="#d4d4d4" stroke="#222" stroke-width="0.7"/>
<rect x="253.58" y="606.63" width="3.11" height="12.57" fill="#d4d4d4" stroke="#222" stroke-width="0.7"/>
<rect x="256.69" y="614.17" width="3.11" height="5.03" fill="#d4d4d4" stroke="#222" stroke-width="0.7"/>
<rect x="259.8" y="614.17" width="3.11" height="5.03" fill="#d4d4d4" stroke="#222" stroke-width="0.7"/>
<rect x="262.91" y="616.69" width="3.11" height="2.51" fill="#d4d4d4" stroke="#222" stroke-width="0.7"/>
<rect x="266.02" y="614.17" width="3.11" height="5.03" fill="#d4d4d4" stroke="#222" stroke-width="0.7"/>
<rect x="269.13" y="614.17" width="3.11" height="5.03" fill="#d4d4d4" stroke="#222" stroke-width="0.7"/>
<rect x="272.24" y="614.17" width="3.11" height="5.03" fill="#d4d4d4" stroke="#222" stroke-width="0.7"/>
<rect x="275.35" y="611.66" width="3.11" height="7.54" fill="#d4d4d4" stroke="#222" stroke-width="0.7"/>
<rect x="278.46" y="614.17" width="3.11" height="5.03" fill="#d4d4d4" stroke="#222" stroke-width="0.7"/>
<rect x="281.57" y="616.69" width="3.11" height="2.51" fill="#d4d4d4" stroke="#222" stroke-width="0.7"/>
<rect x="287.79" y="616.69" width="3.11" height="2.51" fill="#d4d4d4" stroke="#222" stroke-width="0.7"/>
<rect x="303.34" y="616.69" width="3.11" height="2.51" fill="#d4d4d4" stroke="#222" stroke-width="0.7"/>
<rect x="312.67" y="616.69" width="3.11" height="2.51" fill="#d4d4d4" stroke="#222" stroke-width="0.7"/>
<rect x="315.78" y="616.69" width="3.11" height="2.51" fill="#d4d4d4" stroke="#222" stroke-width="0.7"/>
<rect x="346.88" y="616.69" width="3.11" height="2.51" fill="#d4d4d4" stroke="#222" stroke-width="0.7"/>
<rect x="359.32" y="616.69" width="3.11" height="2.51" fill="#d4d4d4" stroke="#222" stroke-width="0.7"/>
<line x1="70.09" y1="619.2" x2="362.43" y2="619.2" stroke="#444" stroke-width="0.9"/>
<polyline points="73.98,619.13 74.2,619.05 74.41,618.88 74.63,618.55 74.85,617.95 75.07,616.87 75.28,615.04 75.5,612.07 75.72,607.44 75.94,600.57 76.15,590.85 76.37,577.74 76.59,560.95 76.81,540.57 77.03,517.23 77.24,492.13 77.46,467.07 77.68,444.21 77.9,425.81 78.11,413.85 78.33,409.7 78.55,413.85 78.77,425.81 78.98,444.21 79.2,467.07 79.42,492.13 79.64,517.23 79.86,540.57 80.07,560.95 80.29,577.74 80.51,590.85 80.73,600.57 80.94,607.44 81.16,612.07 81.38,615.04 81.6,616.87 81.81,617.95 82.03,618.55 82.25,618.88 82.47,619.05 82.69,619.13" fill="none" stroke="#111" stroke-width="0.95" stroke-linejoin="round"/>
<polyline points="78.8,619.15 79.2,619.09 79.61,618.97 80.01,618.74 80.42,618.31 80.82,617.55 81.22,616.26 81.63,614.15 82.03,610.88 82.44,606.02 82.84,599.14 83.25,589.87 83.65,577.99 84.05,563.57 84.46,547.05 84.86,529.3 85.27,511.57 85.67,495.4 86.08,482.37 86.48,473.91 86.88,470.98 87.29,473.91 87.69,482.37 88.1,495.4 88.5,511.57 88.91,529.3 89.31,547.05 89.71,563.57 90.12,577.99 90.52,589.87 90.93,599.14 91.33,606.02 91.74,610.88 92.14,614.15 92.54,616.26 92.95,617.55 93.35,618.31 93.76,618.74 94.16,618.97 94.57,619.09 94.97,619.15" fill="none" stroke="#111" stroke-width="0.95" stroke-linejoin="round"/>
<polyline points="59.2,619.16 60.22,619.14 61.24,619.09 62.26,619.02 63.28,618.9 64.29,618.71 65.31,618.41 66.33,617.97 67.35,617.32 68.37,616.4 69.38,615.1 70.4,613.32 71.42,610.95 72.44,607.87 73.45,603.96 74.47,599.14 75.49,593.34 76.51,586.57 77.53,578.88 78.54,570.42 79.56,561.43 80.58,552.2 81.6,543.14 82.61,534.65 83.63,527.18 84.65,521.15 85.67,516.91 86.69,514.73 87.7,514.73 88.72,516.91 89.74,521.15 90.76,527.18 91.78,534.65 92.79,543.14 93.81,552.2 94.83,561.43 95.85,570.42 96.86,578.88 97.88,586.57 98.9,593.34 99.92,599.14 100.94,603.96 101.95,607.87 102.97,610.95 103.99,613.32 105.01,615.1 106.02,616.4 107.04,617.32 108.06,617.97 109.08,618.41 110.1,618.71 111.11,618.9 112.13,619.02 113.15,619.09 114.17,619.14 115.19,619.16" fill="none" stroke="#111" stroke-width="0.95" stroke-linejoin="round"/>
<polyline points="93.1,619.18 93.97,619.16 94.85,619.11 95.72,619.02 96.59,618.85 97.46,618.55 98.33,618.04 99.2,617.2 100.07,615.91 100.94,613.98 101.81,611.26 102.68,607.59 103.55,602.89 104.42,597.18 105.3,590.65 106.17,583.62 107.04,576.6 107.91,570.2 108.78,565.05 109.65,561.7 110.52,560.54 111.39,561.7 112.26,565.05 113.13,570.2 114,576.6 114.87,583.62 115.74,590.65 116.62,597.18 117.49,602.89 118.36,607.59 119.23,611.26 120.1,613.98 120.97,615.91 121.84,617.2 122.71,618.04 123.58,618.55 124.45,618.85 125.32,619.02 126.19,619.11 127.07,619.16 127.94,619.18" fill="none" stroke="#111" stroke-width="0.95" stroke-linejoin="round"/>
<polyline points="110.83,619.19 111.67,619.18 112.51,619.15 113.35,619.09 114.19,619 115.03,618.82 115.87,618.52 116.71,618.04 117.55,617.29 118.39,616.17 119.23,614.59 120.07,612.46 120.91,609.73 121.75,606.42 122.59,602.63 123.43,598.55 124.27,594.48 125.11,590.76 125.95,587.77 126.79,585.83 127.62,585.16 128.46,585.83 129.3,587.77 130.14,590.76 130.98,594.48 131.82,598.55 132.66,602.63 133.5,606.42 134.34,609.73 135.18,612.46 136.02,614.59 136.86,616.17 137.7,617.29 138.54,618.04 139.38,618.52 140.22,618.82 141.06,619 141.9,619.09 142.74,619.15 143.58,619.18 144.42,619.19" fill="none" stroke="#111" stroke-width="0.95" stroke-linejoin="round"/>
<polyline points="131.05,619.19 131.73,619.18 132.41,619.16 133.1,619.12 133.78,619.05 134.47,618.93 135.15,618.71 135.84,618.36 136.52,617.82 137.2,617.01 137.89,615.87 138.57,614.33 139.26,612.36 139.94,609.96 140.62,607.22 141.31,604.27 141.99,601.32 142.68,598.64 143.36,596.48 144.05,595.07 144.73,594.58 145.41,595.07 146.1,596.48 146.78,598.64 147.47,601.32 148.15,604.27 148.84,607.22 149.52,609.96 150.2,612.36 150.89,614.33 151.57,615.87 152.26,617.01 152.94,617.82 153.62,618.36 154.31,618.71 154.99,618.93 155.68,619.05 156.36,619.12 157.05,619.16 157.73,619.18 158.41,619.19" fill="none" stroke="#111" stroke-width="0.95" stroke-linejoin="round"/>
<polyline points="70.87,619.19 71.87,619.19 72.87,619.19 73.88,619.19 74.88,619.19 75.88,619.18 76.89,619.18 77.89,619.18 78.89,619.17 79.9,619.17 80.9,619.16 81.9,619.15 82.91,619.15 83.91,619.14 84.91,619.13 85.92,619.12 86.92,619.11 87.92,619.09 88.93,619.07 89.93,619.06 90.93,619.04 91.94,619.01 92.94,618.98 93.94,618.95 94.94,618.92 95.95,618.88 96.95,618.84 97.95,618.79 98.96,618.74 99.96,618.68 100.96,618.62 101.97,618.55 102.97,618.47 103.97,618.38 104.98,618.29 105.98,618.19 106.98,618.07 107.99,617.95 108.99,617.81 109.99,617.66 111,617.5 112,617.33 113,617.15 114.01,616.94 115.01,616.73 116.01,616.5 117.02,616.25 118.02,615.98 119.02,615.7 120.03,615.4 121.03,615.08 122.03,614.74 123.04,614.39 124.04,614.01 125.04,613.62 126.04,613.21 127.05,612.78 128.05,612.33 129.05,611.86 130.06,611.38 131.06,610.88 132.06,610.36 133.07,609.83 134.07,609.29 135.07,608.73 136.08,608.17 137.08,607.59 138.08,607.01 139.09,606.42 140.09,605.83 141.09,605.23 142.1,604.64 143.1,604.05 144.1,603.46 145.11,602.88 146.11,602.32 147.11,601.76 148.12,601.22 149.12,600.7 150.12,600.19 151.13,599.71 152.13,599.26 153.13,598.83 154.14,598.43 155.14,598.06 156.14,597.73 157.14,597.43 158.15,597.16 159.15,596.94 160.15,596.75 161.16,596.61 162.16,596.5 163.16,596.44 164.17,596.42 165.17,596.44 166.17,596.5 167.18,596.61 168.18,596.75 169.18,596.94 170.19,597.16 171.19,597.43 172.19,597.73 173.2,598.06 174.2,598.43 175.2,598.83 176.21,599.26 177.21,599.71 178.21,600.19 179.22,600.7 180.22,601.22 181.22,601.76 182.23,602.32 183.23,602.88 184.23,603.46 185.24,604.05 186.24,604.64 187.24,605.23 188.24,605.83 189.25,606.42 190.25,607.01 191.25,607.59 192.26,608.17 193.26,608.73 194.26,609.29 195.27,609.83 196.27,610.36 197.27,610.88 198.28,611.38 199.28,611.86 200.28,612.33 201.29,612.78 202.29,613.21 203.29,613.62 204.3,614.01 205.3,614.39 206.3,614.74 207.31,615.08 208.31,615.4 209.31,615.7 210.32,615.98 211.32,616.25 212.32,616.5 213.33,616.73 214.33,616.94 215.33,617.15 216.34,617.33 217.34,617.5 218.34,617.66 219.34,617.81 220.35,617.95 221.35,618.07 222.35,618.19 223.36,618.29 224.36,618.38 225.36,618.47 226.37,618.55 227.37,618.62 228.37,618.68 229.38,618.74 230.38,618.79 231.38,618.84 232.39,618.88 233.39,618.92 234.39,618.95 235.4,618.98 236.4,619.01 237.4,619.04 238.41,619.06 239.41,619.07 240.41,619.09 241.42,619.11 242.42,619.12 243.42,619.13 244.43,619.14 245.43,619.15 246.43,619.15 247.44,619.16 248.44,619.17 249.44,619.17 250.44,619.18 251.45,619.18 252.45,619.18 253.45,619.19 254.46,619.19 255.46,619.19 256.46,619.19 257.47,619.19" fill="none" stroke="#111" stroke-width="0.95" stroke-linejoin="round"/>
<polyline points="168.52,619.19 168.77,619.19 169.02,619.18 169.27,619.15 169.52,619.1 169.77,619.02 170.01,618.88 170.26,618.65 170.51,618.29 170.76,617.76 171.01,617 171.26,615.99 171.51,614.69 171.76,613.11 172,611.3 172.25,609.35 172.5,607.41 172.75,605.64 173,604.21 173.25,603.29 173.5,602.96 173.75,603.29 174,604.21 174.24,605.64 174.49,607.41 174.74,609.35 174.99,611.3 175.24,613.11 175.49,614.69 175.74,615.99 175.99,617 176.23,617.76 176.48,618.29 176.73,618.65 176.98,618.88 177.23,619.02 177.48,619.1 177.73,619.15 177.98,619.18 178.22,619.19 178.47,619.19" fill="none" stroke="#111" stroke-width="0.95" stroke-linejoin="round"/>
<polyline points="57.65,619.15 58.65,619.15 59.65,619.14 60.65,619.14 61.65,619.13 62.65,619.13 63.65,619.12 64.65,619.12 65.65,619.11 66.65,619.1 67.65,619.09 68.65,619.09 69.65,619.08 70.65,619.07 71.65,619.06 72.66,619.05 73.66,619.04 74.66,619.03 75.66,619.01 76.66,619 77.66,618.99 78.66,618.97 79.66,618.96 80.66,618.94 81.66,618.92 82.66,618.9 83.66,618.88 84.66,618.86 85.66,618.84 86.66,618.82 87.66,618.79 88.66,618.77 89.66,618.74 90.66,618.71 91.66,618.68 92.66,618.65 93.66,618.62 94.66,618.58 95.66,618.54 96.66,618.5 97.66,618.46 98.66,618.42 99.66,618.38 100.67,618.33 101.67,618.28 102.67,618.23 103.67,618.17 104.67,618.12 105.67,618.06 106.67,618 107.67,617.93 108.67,617.87 109.67,617.8 110.67,617.72 111.67,617.65 112.67,617.57 113.67,617.49 114.67,617.41 115.67,617.32 116.67,617.23 117.67,617.13 118.67,617.04 119.67,616.94 120.67,616.83 121.67,616.72 122.67,616.61 123.67,616.5 124.67,616.38 125.67,616.26 126.67,616.13 127.67,616 128.67,615.87 129.68,615.73 130.68,615.59 131.68,615.45 132.68,615.3 133.68,615.15 134.68,615 135.68,614.84 136.68,614.67 137.68,614.51 138.68,614.34 139.68,614.17 140.68,613.99 141.68,613.81 142.68,613.63 143.68,613.44 144.68,613.25 145.68,613.06 146.68,612.87 147.68,612.67 148.68,612.47 149.68,612.27 150.68,612.06 151.68,611.85 152.68,611.65 153.68,611.43 154.68,611.22 155.68,611.01 156.68,610.79 157.69,610.58 158.69,610.36 159.69,610.14 160.69,609.92 161.69,609.7 162.69,609.48 163.69,609.26 164.69,609.05 165.69,608.83 166.69,608.61 167.69,608.4 168.69,608.18 169.69,607.97 170.69,607.76 171.69,607.55 172.69,607.35 173.69,607.14 174.69,606.94 175.69,606.75 176.69,606.55 177.69,606.36 178.69,606.18 179.69,606 180.69,605.82 181.69,605.65 182.69,605.48 183.69,605.32 184.69,605.16 185.69,605.01 186.7,604.87 187.7,604.73 188.7,604.6 189.7,604.47 190.7,604.36 191.7,604.24 192.7,604.14 193.7,604.04 194.7,603.95 195.7,603.87 196.7,603.8 197.7,603.73 198.7,603.67 199.7,603.62 200.7,603.58 201.7,603.54 202.7,603.52 203.7,603.5 204.7,603.49 205.7,603.49 206.7,603.49 207.7,603.51 208.7,603.53 209.7,603.56 210.7,603.6 211.7,603.65 212.7,603.71 213.7,603.77 214.7,603.84 215.71,603.92 216.71,604.01 217.71,604.11 218.71,604.21 219.71,604.32 220.71,604.43 221.71,604.55 222.71,604.68 223.71,604.82 224.71,604.96 225.71,605.11 226.71,605.26 227.71,605.42 228.71,605.59 229.71,605.76 230.71,605.93 231.71,606.11 232.71,606.3 233.71,606.49 234.71,606.68 235.71,606.87 236.71,607.07 237.71,607.27 238.71,607.48 239.71,607.69 240.71,607.9 241.71,608.11 242.71,608.32 243.72,608.54 244.72,608.75 245.72,608.97 246.72,609.19 247.72,609.41 248.72,609.63 249.72,609.85 250.72,610.06 251.72,610.28 252.72,610.5 253.72,610.72 254.72,610.93 255.72,611.15 256.72,611.36 257.72,611.57 258.72,611.78 259.72,611.99 260.72,612.2 261.72,612.4 262.72,612.6 263.72,612.8 264.72,612.99 265.72,613.19 266.72,613.38 267.72,613.56 268.72,613.75 269.72,613.93 270.72,614.11 271.72,614.28 272.73,614.45 273.73,614.62 274.73,614.78 275.73,614.94 276.73,615.1 277.73,615.25 278.73,615.4 279.73,615.54 280.73,615.69 281.73,615.82 282.73,615.96 283.73,616.09 284.73,616.22 285.73,616.34 286.73,616.46 287.73,616.57 288.73,616.69 289.73,616.79 290.73,616.9 291.73,617 292.73,617.1 293.73,617.2 294.73,617.29 295.73,617.38 296.73,617.46 297.73,617.54 298.73,617.62 299.73,617.7 300.74,617.77 301.74,617.84 302.74,617.91 303.74,617.98 304.74,618.04 305.74,618.1 306.74,618.15 307.74,618.21 308.74,618.26 309.74,618.31 310.74,618.36 311.74,618.41 312.74,618.45 313.74,618.49 314.74,618.53 315.74,618.57 316.74,618.6 317.74,618.64 318.74,618.67 319.74,618.7 320.74,618.73 321.74,618.76 322.74,618.78 323.74,618.81 324.74,618.83 325.74,618.86 326.74,618.88 327.74,618.9 328.74,618.92 329.75,618.93 330.75,618.95 331.75,618.97 332.75,618.98 333.75,619 334.75,619.01 335.75,619.02 336.75,619.03 337.75,619.05 338.75,619.06 339.75,619.07 340.75,619.07 341.75,619.08 342.75,619.09 343.75,619.1 344.75,619.11 345.75,619.11 346.75,619.12 347.75,619.13 348.75,619.13 349.75,619.14 350.75,619.14 351.75,619.14 352.75,619.15 353.75,619.15 354.75,619.16 355.75,619.16 356.75,619.16 357.76,619.17 358.76,619.17 359.76,619.17 360.76,619.17 361.76,619.18 362.76,619.18 363.76,619.18 364.76,619.18 365.76,619.18 366.76,619.18 367.76,619.19 368.76,619.19 369.76,619.19 370.76,619.19 371.76,619.19" fill="none" stroke="#111" stroke-width="0.95" stroke-linejoin="round"/>
<polyline points="57.8,603.6 74.7,547.4 75.7,541.6 76.7,534.42 77.7,527.21 78.7,521.31 79.7,517.22 80.7,513.34 81.7,509.92 82.7,507.36 83.7,506.08 84.7,506.09 85.7,506.52 86.7,507.23 87.7,508.15 88.7,509.26 89.7,511.49 90.7,514.72 91.7,518.16 92.7,521.12 93.7,523.92 94.7,526.66 95.7,529.26 96.7,531.69 97.7,534.05 98.7,536.31 99.7,538.45 100.7,540.44 101.7,542.25 102.7,543.9 103.7,545.44 104.7,546.96 105.7,548.52 106.7,550.16 107.7,551.88 108.7,553.62 109.7,555.35 110.7,557.01 111.7,558.56 112.7,559.99 113.7,561.36 114.7,562.68 115.7,563.95 116.7,565.18 117.7,566.38 118.7,567.53 119.7,568.67 120.7,569.78 121.7,570.88 122.7,571.97 123.7,573.03 124.7,574.05 125.7,575.02 126.7,575.93 127.7,576.77 128.7,577.53 129.7,578.27 130.7,578.98 131.7,579.65 132.7,580.28 133.7,580.86 134.7,581.39 135.7,581.87 136.7,582.3 137.7,582.72 138.7,583.13 139.7,583.52 140.7,583.89 141.7,584.23 142.7,584.55 143.7,584.84 144.7,585.09 145.7,585.3 146.7,585.46 147.7,585.59 148.7,585.7 149.7,585.81 150.7,585.91 151.7,586 152.7,586.09 153.7,586.17 154.7,586.24 155.7,586.3 156.7,586.36 157.7,586.41 158.7,586.45 159.7,586.49 160.7,586.52 161.7,586.55 162.7,586.57 163.7,586.59 164.7,586.6 165.7,586.62 166.7,586.63 167.7,586.64 168.7,586.66 169.7,586.67 170.7,586.69 171.7,586.71 172.7,586.73 173.7,586.76 174.7,586.79 175.7,586.84 176.7,586.92 177.7,587.04 178.7,587.19 179.7,587.37 180.7,587.56 181.7,587.77 182.7,587.99 183.7,588.21 184.7,588.43 185.7,588.66 186.7,588.9 187.7,589.16 188.7,589.44 189.7,589.73 190.7,590.04 191.7,590.36 192.7,590.69 193.7,591.04 194.7,591.39 195.7,591.76 196.7,592.17 197.7,592.62 198.7,593.08 199.7,593.56 200.7,594.05 201.7,594.53 202.7,595.01 203.7,595.46 204.7,595.88 205.7,596.27 206.7,596.65 207.7,597.02 208.7,597.39 209.7,597.74 210.7,598.08 211.7,598.42 212.7,598.76 213.7,599.08 214.7,599.4 215.7,599.72 216.7,600.03 217.7,600.32 218.7,600.61 219.7,600.89 220.7,601.17 221.7,601.45 222.7,601.73 223.7,602.01 224.7,602.3 225.7,602.6 226.7,602.91 227.7,603.23 228.7,603.56 229.7,603.91 230.7,604.27 231.7,604.64 232.7,605.01 233.7,605.38 234.7,605.75 235.7,606.11 236.7,606.46 237.7,606.8 238.7,607.12 239.7,607.41 240.7,607.69 241.7,607.96 242.7,608.22 243.7,608.48 244.7,608.72 245.7,608.96 246.7,609.2 247.7,609.42 248.7,609.65 249.7,609.87 250.7,610.09 251.7,610.3 252.7,610.51 253.7,610.73 254.7,610.94 255.7,611.15 256.7,611.36 257.7,611.58 258.7,611.79 259.7,612.01 260.7,612.22 261.7,612.43 262.7,612.63 263.7,612.83 264.7,613.02 265.7,613.21 266.7,613.38 267.7,613.55 268.7,613.71 269.7,613.86 270.7,613.99 271.7,614.12 272.7,614.25 273.7,614.36 274.7,614.47 275.7,614.58 276.7,614.68 277.7,614.78 278.7,614.88 279.7,614.98 280.7,615.08 281.7,615.17 282.7,615.27 283.7,615.37 284.7,615.47 285.7,615.57 286.7,615.68 287.7,615.79 288.7,615.89 289.7,616 290.7,616.11 291.7,616.22 292.7,616.32 293.7,616.43 294.7,616.53 295.7,616.63 296.7,616.72 297.7,616.81 298.7,616.9 299.7,616.98 300.7,617.05 301.7,617.13 302.7,617.2 303.7,617.28 304.7,617.35 305.7,617.42 306.7,617.49 307.7,617.56 308.7,617.63 309.7,617.7 310.7,617.76 311.7,617.82 312.7,617.88 313.7,617.93 314.7,617.98 315.7,618.03 316.7,618.08 317.7,618.12 318.7,618.16 319.7,618.19 320.7,618.22 321.7,618.25 322.7,618.28 323.7,618.3 324.7,618.33 325.7,618.35 326.7,618.37 327.7,618.39 328.7,618.41 329.7,618.43 330.7,618.45 331.7,618.47 332.7,618.49 333.7,618.51 334.7,618.52 335.7,618.54 336.7,618.55 337.7,618.57 338.7,618.58 339.7,618.6 340.7,618.62 341.7,618.63 342.7,618.65 343.7,618.66 344.7,618.68 345.7,618.69 346.7,618.71 347.7,618.72 348.7,618.74 349.7,618.76 350.7,618.78 351.7,618.79 352.7,618.81 353.7,618.83 354.7,618.85 355.7,618.87 356.7,618.89 357.7,618.91 358.7,618.93 359.7,618.95 360.7,618.97 361.7,618.99 362.7,619.01 363.7,619.02 364.7,619.04 365.7,619.06 366.7,619.08 367.7,619.1 368.7,619.12 369.7,619.14 370.7,619.16 371.7,619.18 372.7,619.2" fill="none" stroke="#222" stroke-width="0.8" stroke-linejoin="round" stroke-dasharray="3,2"/>
<line x1="57.8" y1="619.2" x2="57.8" y2="409.7" stroke="#3a3a3a" stroke-width="1"/>
<line x1="51.2" y1="619.2" x2="57.8" y2="619.2" stroke="#3a3a3a" stroke-width="1"/>
<text transform="translate(41.6,626.41) rotate(-90) scale(0.9526,1)" font-family='"Liberation Sans", sans-serif' font-size="10.857" fill="#1a1a1a">0.0</text>
<line x1="51.2" y1="566.83" x2="57.8" y2="566.83" stroke="#3a3a3a" stroke-width="1"/>
<text transform="translate(41.6,574.04) rotate(-90) scale(0.9599,1)" font-family='"Liberation Sans", sans-serif' font-size="10.857" fill="#1a1a1a">0.1</text>
<line x1="51.2" y1="514.45" x2="57.8" y2="514.45" stroke="#3a3a3a" stroke-width="1"/>
<text transform="translate(41.6,521.67) rotate(-90) scale(0.9636,1)" font-family='"Liberation Sans", sans-serif' font-size="10.857" fill="#1a1a1a">0.2</text>
<line x1="51.2" y1="462.08" x2="57.8" y2="462.08" stroke="#3a3a3a" stroke-width="1"/>
<text transform="translate(41.6,469.29) rotate(-90) scale(0.9562,1)" font-family='"Liberation Sans", sans-serif' font-size="10.857" fill="#1a1a1a">0.3</text>
<line x1="51.2" y1="409.7" x2="57.8" y2="409.7" stroke="#3a3a3a" stroke-width="1"/>
<text transform="translate(41.6,416.91) rotate(-90) scale(0.9490,1)" font-family='"Liberation Sans", sans-serif' font-size="10.857" fill="#1a1a1a">0.4</text>
<line x1="73.2" y1="628.2" x2="306.45" y2="628.2" stroke="#3a3a3a" stroke-width="1"/>
<line x1="73.2" y1="628.2" x2="73.2" y2="632.8" stroke="#3a3a3a" stroke-width="1"/>
<text transform="translate(69.93,648.5) scale(1.1502,1)" font-family='"Liberation Sans", sans-serif' font-size="10.143" fill="#1a1a1a">0</text>
<line x1="150.95" y1="628.2" x2="150.95" y2="632.8" stroke="#3a3a3a" stroke-width="1"/>
<text transform="translate(147.68,648.5) scale(1.1457,1)" font-family='"Liberation Sans", sans-serif' font-size="10.290" fill="#1a1a1a">5</text>
<line x1="228.7" y1="628.2" x2="228.7" y2="632.8" stroke="#3a3a3a" stroke-width="1"/>
<text transform="translate(222.38,648.5) scale(1.0845,1)" font-family='"Liberation Sans", sans-serif' font-size="10.143" fill="#1a1a1a">10</text>
<line x1="306.45" y1="628.2" x2="306.45" y2="632.8" stroke="#3a3a3a" stroke-width="1"/>
<text transform="translate(300.12,648.5) scale(1.0744,1)" font-family='"Liberation Sans", sans-serif' font-size="10.290" fill="#1a1a1a">15</text>
<text transform="translate(12.9,531.69) rotate(-90) scale(0.9195,1)" font-family='"Liberation Sans", sans-serif' font-size="10.759" fill="#1a1a1a">Density</text>
<text transform="translate(206.52,671.6) scale(1.3040,1)" font-family='"Liberation Sans", sans-serif' font-size="9.379" fill="#1a1a1a">Bin</text>
<text transform="translate(186.37,378.2) scale(1.2633,1)" font-family='"Liberation Sans", sans-serif' font-size="11.286" font-weight="bold" fill="#111">K-CGMD</text>
<text transform="translate(151.48,389.9) scale(1.2498,1)" font-family='"Liberation Sans", sans-serif' font-size="11.286" font-weight="bold" fill="#111">BIC = -4506.920038</text>
<text transform="translate(184.78,702.6) scale(1.0359,1)" font-family='"Liberation Serif", serif' font-size="17.698" fill="#000">(c)</text>
<rect x="449.5" y="402.4" width="243.9" height="224.8" fill="none" stroke="#3a3a3a" stroke-width="1"/>
<line x1="458.7" y1="627.2" x2="458.7" y2="632.8" stroke="#3a3a3a" stroke-width="1"/>
<text transform="translate(452.18,648.7) scale(0.9629,1)" font-family='"Liberation Sans", sans-serif' font-size="9.714" fill="#1a1a1a">0.0</text>
<line x1="444.4" y1="619.2" x2="449.5" y2="619.2" stroke="#3a3a3a" stroke-width="1"/>
<text transform="translate(436.8,625.51) rotate(-90) scale(1.0558,1)" font-family='"Liberation Sans", sans-serif' font-size="8.571" fill="#1a1a1a">0.0</text>
<line x1="503.9" y1="627.2" x2="503.9" y2="632.8" stroke="#3a3a3a" stroke-width="1"/>
<text transform="translate(497.37,648.7) scale(0.9740,1)" font-family='"Liberation Sans", sans-serif' font-size="9.714" fill="#1a1a1a">0.2</text>
<line x1="444.4" y1="577.54" x2="449.5" y2="577.54" stroke="#3a3a3a" stroke-width="1"/>
<text transform="translate(436.8,583.86) rotate(-90) scale(1.0679,1)" font-family='"Liberation Sans", sans-serif' font-size="8.571" fill="#1a1a1a">0.2</text>
<line x1="549.1" y1="627.2" x2="549.1" y2="632.8" stroke="#3a3a3a" stroke-width="1"/>
<text transform="translate(542.58,648.7) scale(0.9592,1)" font-family='"Liberation Sans", sans-serif' font-size="9.714" fill="#1a1a1a">0.4</text>
<line x1="444.4" y1="535.88" x2="449.5" y2="535.88" stroke="#3a3a3a" stroke-width="1"/>
<text transform="translate(436.8,542.19) rotate(-90) scale(1.0518,1)" font-family='"Liberation Sans", sans-serif' font-size="8.571" fill="#1a1a1a">0.4</text>
<line x1="594.3" y1="627.2" x2="594.3" y2="632.8" stroke="#3a3a3a" stroke-width="1"/>
<text transform="translate(587.77,648.7) scale(0.9665,1)" font-family='"Liberation Sans", sans-serif' font-size="9.714" fill="#1a1a1a">0.6</text>
<line x1="444.4" y1="494.22" x2="449.5" y2="494.22" stroke="#3a3a3a" stroke-width="1"/>
<text transform="translate(436.8,500.53) rotate(-90) scale(1.0598,1)" font-family='"Liberation Sans", sans-serif' font-size="8.571" fill="#1a1a1a">0.6</text>
<line x1="639.5" y1="627.2" x2="639.5" y2="632.8" stroke="#3a3a3a" stroke-width="1"/>
<text transform="translate(632.97,648.7) scale(0.9665,1)" font-family='"Liberation Sans", sans-serif' font-size="9.714" fill="#1a1a1a">0.8</text>
<line x1="444.4" y1="452.56" x2="449.5" y2="452.56" stroke="#3a3a3a" stroke-width="1"/>
<text transform="translate(436.8,458.87) rotate(-90) scale(1.0598,1)" font-family='"Liberation Sans", sans-serif' font-size="8.571" fill="#1a1a1a">0.8</text>
<line x1="684.7" y1="627.2" x2="684.7" y2="632.8" stroke="#3a3a3a" stroke-width="1"/>
<text transform="translate(677.83,648.7) scale(0.9892,1)" font-family='"Liberation Sans", sans-serif' font-size="9.714" fill="#1a1a1a">1.0</text>
<line x1="444.4" y1="410.9" x2="449.5" y2="410.9" stroke="#3a3a3a" stroke-width="1"/>
<text transform="translate(436.8,417.55) rotate(-90) scale(1.0846,1)" font-family='"Liberation Sans", sans-serif' font-size="8.571" fill="#1a1a1a">1.0</text>
<text transform="translate(415.1,546.98) rotate(-90) scale(1.0698,1)" font-family='"Liberation Sans", sans-serif' font-size="9.103" fill="#1a1a1a">Empirical CDF</text>
<text transform="translate(539.42,671.9) scale(0.8175,1)" font-family='"Liberation Sans", sans-serif' font-size="10.759" fill="#1a1a1a">Theoretical CDF</text>
<text transform="translate(548.68,378.2) scale(1.0778,1)" font-family='"Liberation Sans", sans-serif' font-size="10.286" font-weight="bold" fill="#111">K-CGMD</text>
<text transform="translate(521.69,389.5) scale(0.9713,1)" font-family='"Liberation Sans", sans-serif' font-size="11.286" font-weight="bold" fill="#111">BIC = -4506.920038</text>
<text transform="translate(546.65,702.6) scale(1.0306,1)" font-family='"Liberation Serif", serif' font-size="18.417" fill="#000">(d)</text>
<line x1="449.5" y1="627.7" x2="693.4" y2="402.9" stroke="#333" stroke-width="0.7"/>
<circle cx="459.25" cy="619.79" r="2.1" fill="#4d84da"/>
<circle cx="459.7" cy="618.54" r="2.1" fill="#4d84da"/>
<circle cx="460.47" cy="617.63" r="2.1" fill="#4d84da"/>
<circle cx="460.74" cy="616.18" r="2.1" fill="#4d84da"/>
<circle cx="462.09" cy="615.9" r="2.1" fill="#4d84da"/>
<circle cx="462.94" cy="615.08" r="2.1" fill="#4d84da"/>
<circle cx="463.89" cy="614.37" r="2.1" fill="#4d84da"/>
<circle cx="464.59" cy="613.39" r="2.1" fill="#4d84da"/>
<circle cx="465.64" cy="612.78" r="2.1" fill="#4d84da"/>
<circle cx="466.38" cy="611.83" r="2.1" fill="#4d84da"/>
<circle cx="466.99" cy="610.76" r="2.1" fill="#4d84da"/>
<circle cx="468.53" cy="610.68" r="2.1" fill="#4d84da"/>
<circle cx="469.4" cy="609.88" r="2.1" fill="#4d84da"/>
<circle cx="470.52" cy="609.35" r="2.1" fill="#4d84da"/>
<circle cx="470.88" cy="608" r="2.1" fill="#4d84da"/>
<circle cx="471.61" cy="607.05" r="2.1" fill="#4d84da"/>
<circle cx="472.44" cy="606.2" r="2.1" fill="#4d84da"/>
<circle cx="473" cy="605.07" r="2.1" fill="#4d84da"/>
<circle cx="474.65" cy="605.1" r="2.1" fill="#4d84da"/>
<circle cx="474.88" cy="603.62" r="2.1" fill="#4d84da"/>
<circle cx="475.72" cy="602.79" r="2.1" fill="#4d84da"/>
<circle cx="476.89" cy="602.31" r="2.1" fill="#4d84da"/>
<circle cx="478.28" cy="602.06" r="2.1" fill="#4d84da"/>
<circle cx="478.76" cy="600.85" r="2.1" fill="#4d84da"/>
<circle cx="479.25" cy="599.64" r="2.1" fill="#4d84da"/>
<circle cx="480.21" cy="598.94" r="2.1" fill="#4d84da"/>
<circle cx="481.49" cy="598.58" r="2.1" fill="#4d84da"/>
<circle cx="482.12" cy="597.52" r="2.1" fill="#4d84da"/>
<circle cx="482.8" cy="596.52" r="2.1" fill="#4d84da"/>
<circle cx="483.84" cy="595.89" r="2.1" fill="#4d84da"/>
<circle cx="485" cy="595.41" r="2.1" fill="#4d84da"/>
<circle cx="486.25" cy="595.01" r="2.1" fill="#4d84da"/>
<circle cx="486.13" cy="593.15" r="2.1" fill="#4d84da"/>
<circle cx="487.19" cy="592.56" r="2.1" fill="#4d84da"/>
<circle cx="488.01" cy="591.7" r="2.1" fill="#4d84da"/>
<circle cx="488.38" cy="590.36" r="2.1" fill="#4d84da"/>
<circle cx="489.71" cy="590.05" r="2.1" fill="#4d84da"/>
<circle cx="490.55" cy="589.22" r="2.1" fill="#4d84da"/>
<circle cx="492.07" cy="589.13" r="2.1" fill="#4d84da"/>
<circle cx="492.56" cy="587.91" r="2.1" fill="#4d84da"/>
<circle cx="492.97" cy="586.62" r="2.1" fill="#4d84da"/>
<circle cx="494.54" cy="586.57" r="2.1" fill="#4d84da"/>
<circle cx="495.1" cy="585.43" r="2.1" fill="#4d84da"/>
<circle cx="495.54" cy="584.18" r="2.1" fill="#4d84da"/>
<circle cx="496.76" cy="583.75" r="2.1" fill="#4d84da"/>
<circle cx="497.64" cy="582.95" r="2.1" fill="#4d84da"/>
<circle cx="498.42" cy="582.06" r="2.1" fill="#4d84da"/>
<circle cx="499.56" cy="581.56" r="2.1" fill="#4d84da"/>
<circle cx="499.74" cy="580.01" r="2.1" fill="#4d84da"/>
<circle cx="501.21" cy="579.86" r="2.1" fill="#4d84da"/>
<circle cx="502.47" cy="579.48" r="2.1" fill="#4d84da"/>
<circle cx="503.29" cy="578.62" r="2.1" fill="#4d84da"/>
<circle cx="504.24" cy="577.9" r="2.1" fill="#4d84da"/>
<circle cx="505.11" cy="577.11" r="2.1" fill="#4d84da"/>
<circle cx="506.09" cy="576.43" r="2.1" fill="#4d84da"/>
<circle cx="506.17" cy="574.77" r="2.1" fill="#4d84da"/>
<circle cx="507.64" cy="574.61" r="2.1" fill="#4d84da"/>
<circle cx="507.68" cy="572.92" r="2.1" fill="#4d84da"/>
<circle cx="508.93" cy="572.54" r="2.1" fill="#4d84da"/>
<circle cx="509.4" cy="571.3" r="2.1" fill="#4d84da"/>
<circle cx="511.17" cy="571.48" r="2.1" fill="#4d84da"/>
<circle cx="512.13" cy="570.77" r="2.1" fill="#4d84da"/>
<circle cx="512.53" cy="569.46" r="2.1" fill="#4d84da"/>
<circle cx="514" cy="569.31" r="2.1" fill="#4d84da"/>
<circle cx="514.12" cy="567.7" r="2.1" fill="#4d84da"/>
<circle cx="515.25" cy="567.17" r="2.1" fill="#4d84da"/>
<circle cx="516.12" cy="566.37" r="2.1" fill="#4d84da"/>
<circle cx="516.61" cy="565.17" r="2.1" fill="#4d84da"/>
<circle cx="517.94" cy="564.87" r="2.1" fill="#4d84da"/>
<circle cx="519.27" cy="564.56" r="2.1" fill="#4d84da"/>
<circle cx="519.23" cy="562.78" r="2.1" fill="#4d84da"/>
<circle cx="520.69" cy="562.61" r="2.1" fill="#4d84da"/>
<circle cx="521.24" cy="561.47" r="2.1" fill="#4d84da"/>
<circle cx="522.7" cy="561.3" r="2.1" fill="#4d84da"/>
<circle cx="523.17" cy="560.07" r="2.1" fill="#4d84da"/>
<circle cx="524.1" cy="559.34" r="2.1" fill="#4d84da"/>
<circle cx="524.96" cy="558.52" r="2.1" fill="#4d84da"/>
<circle cx="525.71" cy="557.59" r="2.1" fill="#4d84da"/>
<circle cx="526.07" cy="556.25" r="2.1" fill="#4d84da"/>
<circle cx="527.8" cy="556.37" r="2.1" fill="#4d84da"/>
<circle cx="527.82" cy="554.66" r="2.1" fill="#4d84da"/>
<circle cx="529.18" cy="554.38" r="2.1" fill="#4d84da"/>
<circle cx="530.16" cy="553.71" r="2.1" fill="#4d84da"/>
<circle cx="530.59" cy="552.43" r="2.1" fill="#4d84da"/>
<circle cx="531.76" cy="551.95" r="2.1" fill="#4d84da"/>
<circle cx="532.94" cy="551.49" r="2.1" fill="#4d84da"/>
<circle cx="533.45" cy="550.29" r="2.1" fill="#4d84da"/>
<circle cx="534.05" cy="549.21" r="2.1" fill="#4d84da"/>
<circle cx="534.3" cy="547.74" r="2.1" fill="#4d84da"/>
<circle cx="535.76" cy="547.58" r="2.1" fill="#4d84da"/>
<circle cx="536.75" cy="546.9" r="2.1" fill="#4d84da"/>
<circle cx="537.64" cy="546.13" r="2.1" fill="#4d84da"/>
<circle cx="538.38" cy="545.18" r="2.1" fill="#4d84da"/>
<circle cx="539.65" cy="544.82" r="2.1" fill="#4d84da"/>
<circle cx="540.23" cy="543.7" r="2.1" fill="#4d84da"/>
<circle cx="541.24" cy="543.05" r="2.1" fill="#4d84da"/>
<circle cx="542.35" cy="542.51" r="2.1" fill="#4d84da"/>
<circle cx="542.75" cy="541.21" r="2.1" fill="#4d84da"/>
<circle cx="543.79" cy="540.59" r="2.1" fill="#4d84da"/>
<circle cx="545.41" cy="540.59" r="2.1" fill="#4d84da"/>
<circle cx="545.89" cy="539.37" r="2.1" fill="#4d84da"/>
<circle cx="546.1" cy="537.86" r="2.1" fill="#4d84da"/>
<circle cx="547.34" cy="537.46" r="2.1" fill="#4d84da"/>
<circle cx="548.4" cy="536.87" r="2.1" fill="#4d84da"/>
<circle cx="549.48" cy="536.29" r="2.1" fill="#4d84da"/>
<circle cx="550.01" cy="535.13" r="2.1" fill="#4d84da"/>
<circle cx="550.68" cy="534.1" r="2.1" fill="#4d84da"/>
<circle cx="551.48" cy="533.24" r="2.1" fill="#4d84da"/>
<circle cx="552.77" cy="532.89" r="2.1" fill="#4d84da"/>
<circle cx="553.54" cy="531.98" r="2.1" fill="#4d84da"/>
<circle cx="554.16" cy="530.9" r="2.1" fill="#4d84da"/>
<circle cx="555.13" cy="530.21" r="2.1" fill="#4d84da"/>
<circle cx="555.93" cy="529.33" r="2.1" fill="#4d84da"/>
<circle cx="557.14" cy="528.91" r="2.1" fill="#4d84da"/>
<circle cx="557.58" cy="527.64" r="2.1" fill="#4d84da"/>
<circle cx="558.81" cy="527.23" r="2.1" fill="#4d84da"/>
<circle cx="559.79" cy="526.55" r="2.1" fill="#4d84da"/>
<circle cx="560.55" cy="525.62" r="2.1" fill="#4d84da"/>
<circle cx="561.01" cy="524.39" r="2.1" fill="#4d84da"/>
<circle cx="562.55" cy="524.3" r="2.1" fill="#4d84da"/>
<circle cx="562.8" cy="522.84" r="2.1" fill="#4d84da"/>
<circle cx="564.01" cy="522.4" r="2.1" fill="#4d84da"/>
<circle cx="564.52" cy="521.21" r="2.1" fill="#4d84da"/>
<circle cx="565.08" cy="520.09" r="2.1" fill="#4d84da"/>
<circle cx="566.55" cy="519.93" r="2.1" fill="#4d84da"/>
<circle cx="567.44" cy="519.15" r="2.1" fill="#4d84da"/>
<circle cx="568.2" cy="518.23" r="2.1" fill="#4d84da"/>
<circle cx="569.18" cy="517.54" r="2.1" fill="#4d84da"/>
<circle cx="569.76" cy="516.44" r="2.1" fill="#4d84da"/>
<circle cx="570.61" cy="515.61" r="2.1" fill="#4d84da"/>
<circle cx="571.65" cy="514.99" r="2.1" fill="#4d84da"/>
<circle cx="573.15" cy="514.88" r="2.1" fill="#4d84da"/>
<circle cx="573.69" cy="513.72" r="2.1" fill="#4d84da"/>
<circle cx="574.15" cy="512.48" r="2.1" fill="#4d84da"/>
<circle cx="575.35" cy="512.03" r="2.1" fill="#4d84da"/>
<circle cx="575.9" cy="510.89" r="2.1" fill="#4d84da"/>
<circle cx="576.78" cy="510.09" r="2.1" fill="#4d84da"/>
<circle cx="578.05" cy="509.72" r="2.1" fill="#4d84da"/>
<circle cx="578.49" cy="508.47" r="2.1" fill="#4d84da"/>
<circle cx="579.01" cy="507.29" r="2.1" fill="#4d84da"/>
<circle cx="580.11" cy="506.74" r="2.1" fill="#4d84da"/>
<circle cx="581.29" cy="506.27" r="2.1" fill="#4d84da"/>
<circle cx="582.17" cy="505.48" r="2.1" fill="#4d84da"/>
<circle cx="583.38" cy="505.04" r="2.1" fill="#4d84da"/>
<circle cx="583.65" cy="503.6" r="2.1" fill="#4d84da"/>
<circle cx="584.96" cy="503.27" r="2.1" fill="#4d84da"/>
<circle cx="585.74" cy="502.37" r="2.1" fill="#4d84da"/>
<circle cx="586.43" cy="501.38" r="2.1" fill="#4d84da"/>
<circle cx="587.6" cy="500.9" r="2.1" fill="#4d84da"/>
<circle cx="588.37" cy="499.99" r="2.1" fill="#4d84da"/>
<circle cx="588.82" cy="498.74" r="2.1" fill="#4d84da"/>
<circle cx="590.28" cy="498.58" r="2.1" fill="#4d84da"/>
<circle cx="590.45" cy="497.02" r="2.1" fill="#4d84da"/>
<circle cx="591.71" cy="496.64" r="2.1" fill="#4d84da"/>
<circle cx="592.56" cy="495.82" r="2.1" fill="#4d84da"/>
<circle cx="593.56" cy="495.16" r="2.1" fill="#4d84da"/>
<circle cx="594.08" cy="493.98" r="2.1" fill="#4d84da"/>
<circle cx="595.16" cy="493.41" r="2.1" fill="#4d84da"/>
<circle cx="596" cy="492.57" r="2.1" fill="#4d84da"/>
<circle cx="597.21" cy="492.14" r="2.1" fill="#4d84da"/>
<circle cx="597.53" cy="490.75" r="2.1" fill="#4d84da"/>
<circle cx="598.67" cy="490.24" r="2.1" fill="#4d84da"/>
<circle cx="599.44" cy="489.33" r="2.1" fill="#4d84da"/>
<circle cx="599.99" cy="488.19" r="2.1" fill="#4d84da"/>
<circle cx="602.07" cy="488.69" r="2.1" fill="#4d84da"/>
<circle cx="602.1" cy="486.99" r="2.1" fill="#4d84da"/>
<circle cx="602.54" cy="485.72" r="2.1" fill="#4d84da"/>
<circle cx="604.29" cy="485.87" r="2.1" fill="#4d84da"/>
<circle cx="604.4" cy="484.25" r="2.1" fill="#4d84da"/>
<circle cx="605.71" cy="483.93" r="2.1" fill="#4d84da"/>
<circle cx="606.73" cy="483.29" r="2.1" fill="#4d84da"/>
<circle cx="607.14" cy="481.99" r="2.1" fill="#4d84da"/>
<circle cx="608.08" cy="481.26" r="2.1" fill="#4d84da"/>
<circle cx="608.91" cy="480.42" r="2.1" fill="#4d84da"/>
<circle cx="609.91" cy="479.76" r="2.1" fill="#4d84da"/>
<circle cx="610.32" cy="478.47" r="2.1" fill="#4d84da"/>
<circle cx="611.31" cy="477.79" r="2.1" fill="#4d84da"/>
<circle cx="612.51" cy="477.35" r="2.1" fill="#4d84da"/>
<circle cx="613.74" cy="476.94" r="2.1" fill="#4d84da"/>
<circle cx="614.49" cy="476" r="2.1" fill="#4d84da"/>
<circle cx="615.69" cy="475.56" r="2.1" fill="#4d84da"/>
<circle cx="616.24" cy="474.42" r="2.1" fill="#4d84da"/>
<circle cx="616.74" cy="473.22" r="2.1" fill="#4d84da"/>
<circle cx="617.73" cy="472.55" r="2.1" fill="#4d84da"/>
<circle cx="618.02" cy="471.12" r="2.1" fill="#4d84da"/>
<circle cx="619.21" cy="470.67" r="2.1" fill="#4d84da"/>
<circle cx="620.06" cy="469.85" r="2.1" fill="#4d84da"/>
<circle cx="621.33" cy="469.47" r="2.1" fill="#4d84da"/>
<circle cx="622.31" cy="468.8" r="2.1" fill="#4d84da"/>
<circle cx="622.81" cy="467.6" r="2.1" fill="#4d84da"/>
<circle cx="623.67" cy="466.79" r="2.1" fill="#4d84da"/>
<circle cx="624.25" cy="465.67" r="2.1" fill="#4d84da"/>
<circle cx="625.55" cy="465.34" r="2.1" fill="#4d84da"/>
<circle cx="626.54" cy="464.66" r="2.1" fill="#4d84da"/>
<circle cx="627.47" cy="463.92" r="2.1" fill="#4d84da"/>
<circle cx="627.96" cy="462.72" r="2.1" fill="#4d84da"/>
<circle cx="629.68" cy="462.83" r="2.1" fill="#4d84da"/>
<circle cx="630.3" cy="461.77" r="2.1" fill="#4d84da"/>
<circle cx="630.78" cy="460.54" r="2.1" fill="#4d84da"/>
<circle cx="631.52" cy="459.6" r="2.1" fill="#4d84da"/>
<circle cx="632.45" cy="458.86" r="2.1" fill="#4d84da"/>
<circle cx="633.46" cy="458.22" r="2.1" fill="#4d84da"/>
<circle cx="634.28" cy="457.36" r="2.1" fill="#4d84da"/>
<circle cx="635.3" cy="456.72" r="2.1" fill="#4d84da"/>
<circle cx="636.26" cy="456.02" r="2.1" fill="#4d84da"/>
<circle cx="637.31" cy="455.41" r="2.1" fill="#4d84da"/>
<circle cx="638.11" cy="454.54" r="2.1" fill="#4d84da"/>
<circle cx="638.6" cy="453.32" r="2.1" fill="#4d84da"/>
<circle cx="639.62" cy="452.69" r="2.1" fill="#4d84da"/>
<circle cx="640.25" cy="451.63" r="2.1" fill="#4d84da"/>
<circle cx="641.06" cy="450.76" r="2.1" fill="#4d84da"/>
<circle cx="642.69" cy="450.78" r="2.1" fill="#4d84da"/>
<circle cx="642.84" cy="449.2" r="2.1" fill="#4d84da"/>
<circle cx="644.46" cy="449.21" r="2.1" fill="#4d84da"/>
<circle cx="644.61" cy="447.64" r="2.1" fill="#4d84da"/>
<circle cx="645.66" cy="447.03" r="2.1" fill="#4d84da"/>
<circle cx="646.79" cy="446.51" r="2.1" fill="#4d84da"/>
<circle cx="647.33" cy="445.36" r="2.1" fill="#4d84da"/>
<circle cx="648.31" cy="444.68" r="2.1" fill="#4d84da"/>
<circle cx="648.99" cy="443.67" r="2.1" fill="#4d84da"/>
<circle cx="649.79" cy="442.79" r="2.1" fill="#4d84da"/>
<circle cx="650.75" cy="442.09" r="2.1" fill="#4d84da"/>
<circle cx="651.47" cy="441.13" r="2.1" fill="#4d84da"/>
<circle cx="653.04" cy="441.08" r="2.1" fill="#4d84da"/>
<circle cx="653.36" cy="439.69" r="2.1" fill="#4d84da"/>
<circle cx="654.8" cy="439.51" r="2.1" fill="#4d84da"/>
<circle cx="654.32" cy="437.26" r="2.1" fill="#4d84da"/>
<circle cx="656.02" cy="437.34" r="2.1" fill="#4d84da"/>
<circle cx="657.06" cy="436.72" r="2.1" fill="#4d84da"/>
<circle cx="657.66" cy="435.64" r="2.1" fill="#4d84da"/>
<circle cx="658.96" cy="435.29" r="2.1" fill="#4d84da"/>
<circle cx="659.69" cy="434.34" r="2.1" fill="#4d84da"/>
<circle cx="660.28" cy="433.24" r="2.1" fill="#4d84da"/>
<circle cx="661.36" cy="432.67" r="2.1" fill="#4d84da"/>
<circle cx="662.96" cy="432.65" r="2.1" fill="#4d84da"/>
<circle cx="663.05" cy="431.01" r="2.1" fill="#4d84da"/>
<circle cx="663.93" cy="430.23" r="2.1" fill="#4d84da"/>
<circle cx="664.57" cy="429.18" r="2.1" fill="#4d84da"/>
<circle cx="665.62" cy="428.57" r="2.1" fill="#4d84da"/>
<circle cx="666.05" cy="427.3" r="2.1" fill="#4d84da"/>
<circle cx="667.25" cy="426.86" r="2.1" fill="#4d84da"/>
<circle cx="668.94" cy="426.93" r="2.1" fill="#4d84da"/>
<circle cx="669.38" cy="425.67" r="2.1" fill="#4d84da"/>
<circle cx="670.12" cy="424.73" r="2.1" fill="#4d84da"/>
<circle cx="671.13" cy="424.08" r="2.1" fill="#4d84da"/>
<circle cx="672.24" cy="423.54" r="2.1" fill="#4d84da"/>
<circle cx="672.71" cy="422.31" r="2.1" fill="#4d84da"/>
<circle cx="674.03" cy="422" r="2.1" fill="#4d84da"/>
<circle cx="674.6" cy="420.87" r="2.1" fill="#4d84da"/>
<circle cx="675.19" cy="419.77" r="2.1" fill="#4d84da"/>
<circle cx="676.53" cy="419.48" r="2.1" fill="#4d84da"/>
<circle cx="676.16" cy="417.34" r="2.1" fill="#4d84da"/>
<circle cx="677.57" cy="417.12" r="2.1" fill="#4d84da"/>
<circle cx="678.7" cy="416.6" r="2.1" fill="#4d84da"/>
<circle cx="679.21" cy="415.41" r="2.1" fill="#4d84da"/>
<circle cx="680.31" cy="414.85" r="2.1" fill="#4d84da"/>
<circle cx="681.03" cy="413.89" r="2.1" fill="#4d84da"/>
<circle cx="681.89" cy="413.09" r="2.1" fill="#4d84da"/>
<circle cx="683.79" cy="413.39" r="2.1" fill="#4d84da"/>
<circle cx="684.02" cy="411.91" r="2.1" fill="#4d84da"/>
<circle cx="684.68" cy="410.88" r="2.1" fill="#4d84da"/>
<line x1="458.7" y1="619.2" x2="684.7" y2="410.9" stroke="#23407e" stroke-width="0.8"/>
</svg></body></html>
